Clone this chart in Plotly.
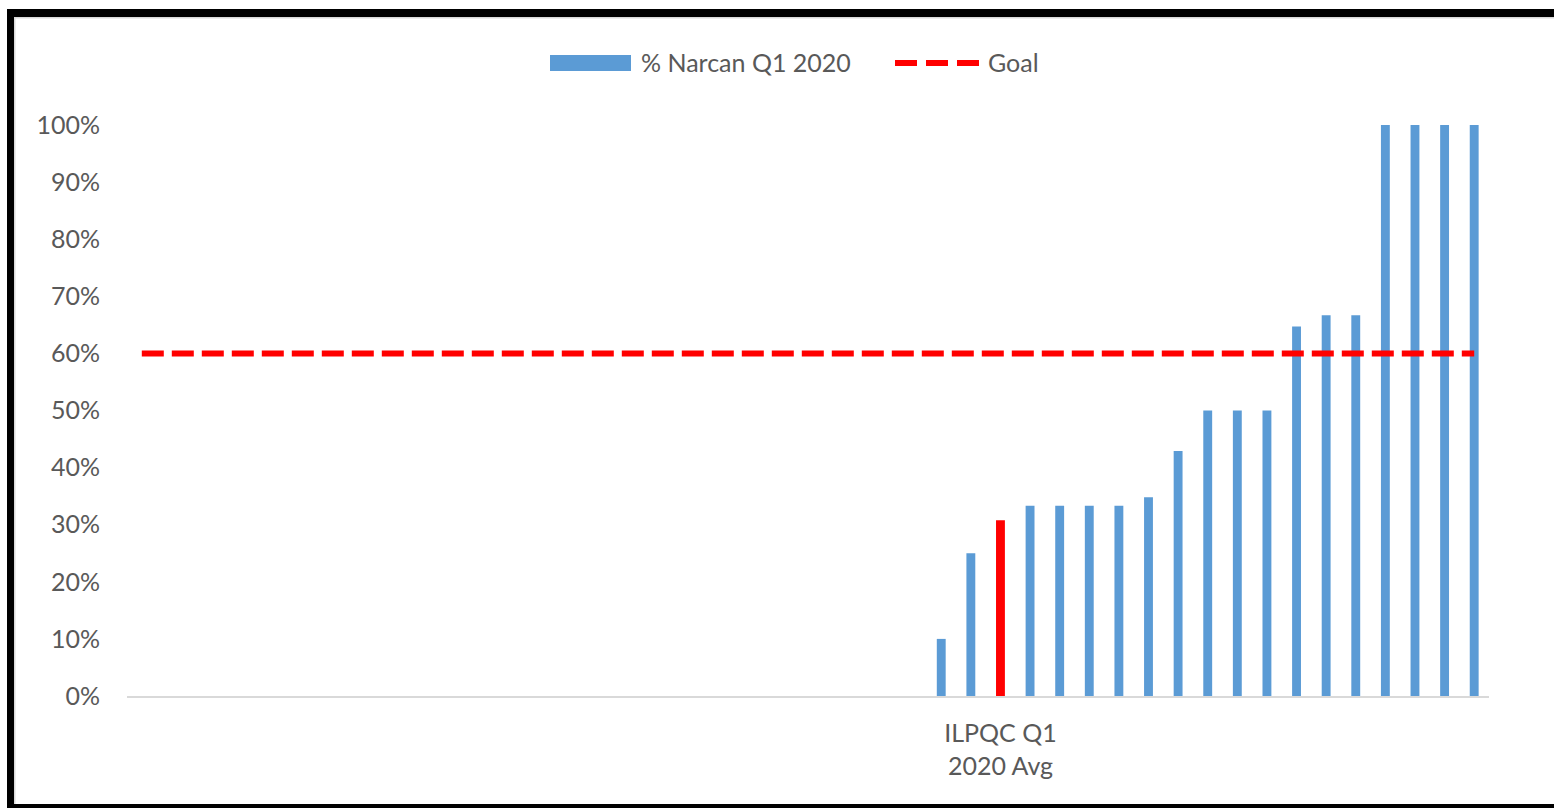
import plotly.graph_objects as go

# Hospital slots (positions 0..45); only the later hospitals report a rate
slots = list(range(46))
narcan_pct = [
    None, None, None, None, None, None, None, None, None, None,
    None, None, None, None, None, None, None, None, None, None,
    None, None, None, None, None, None, None,
    0.10, 0.25, 0.308, 0.333, 0.333, 0.333, 0.333, 0.348, 0.429,
    0.50, 0.50, 0.50, 0.647, 0.667, 0.667, 1.00, 1.00, 1.00, 1.00,
]
avg_slot = 29
avg_label = "ILPQC Q1<br>2020 Avg"
goal_value = 0.60
goal = [goal_value] * len(slots)
y_ticks = [0, 0.1, 0.2, 0.3, 0.4, 0.5, 0.6, 0.7, 0.8, 0.9, 1.0]

BLUE = "#5B9BD5"
RED = "#FF0000"
TEXT = "#595959"
FONT = "Lato"

bar_colors = [RED if i == avg_slot else BLUE for i in slots]

# page geometry (pixels)
W, H = 1554, 808
ML, MR, MT, MB = 127, 65, 125, 112


def px(x):
    return (x - ML) / (W - ML - MR)


def py(y):
    return (H - MB - y) / (H - MT - MB)


fig = go.Figure()
fig.add_trace(go.Bar(
    x=slots, y=narcan_pct, width=0.3,
    marker=dict(color=bar_colors, line=dict(width=0)),
    name="% Narcan Q1 2020", showlegend=False,
))
fig.add_trace(go.Scatter(
    x=slots, y=goal, mode="lines",
    line=dict(color=RED, width=6, dash="22px,8px"),
    name="Goal", showlegend=False,
))

shapes = []
# outer frame (left, top, bottom) with a faint inner edge
for x0, y0, x1, y1, col in [
    (7, 9, 14, H + 5, "black"),
    (7, 9, W + 5, 17, "black"),
    (7, 804, W + 5, H + 5, "black"),
    (14, 17, 15.5, 804, "#D9D9D9"),
    (14, 17, W + 5, 18.5, "#D9D9D9"),
]:
    shapes.append(dict(type="rect", xref="paper", yref="paper",
                       x0=px(x0), x1=px(x1), y0=py(y0), y1=py(y1),
                       fillcolor=col, line=dict(width=0), layer="above"))

# legend keys
shapes.append(dict(type="rect", xref="paper", yref="paper",
                   x0=px(550), x1=px(631), y0=py(55), y1=py(71),
                   fillcolor=BLUE, line=dict(width=0)))
shapes.append(dict(type="line", xref="paper", yref="paper",
                   x0=px(895), x1=px(979), y0=py(63), y1=py(63),
                   line=dict(color=RED, width=6, dash="22px,9px")))

annotations = [
    dict(text="% Narcan Q1 2020", xref="paper", yref="paper",
         x=px(639), y=py(62), xanchor="left", yanchor="middle",
         showarrow=False, font=dict(family=FONT, size=25, color=TEXT)),
    dict(text="Goal", xref="paper", yref="paper",
         x=px(986), y=py(62), xanchor="left", yanchor="middle",
         showarrow=False, font=dict(family=FONT, size=25, color=TEXT)),
]

fig.update_layout(
    width=W, height=H,
    margin=dict(l=ML, r=MR, t=MT, b=MB),
    paper_bgcolor="white", plot_bgcolor="white",
    font=dict(family=FONT, size=25, color=TEXT),
    shapes=shapes, annotations=annotations,
    showlegend=False,
)
fig.update_xaxes(
    range=[-0.5, len(slots) - 0.5],
    tickmode="array", tickvals=[avg_slot], ticktext=[avg_label],
    showgrid=False, zeroline=False, ticks="",
    showline=True, linecolor="#D9D9D9", linewidth=2,
    ticklabelstandoff=14,
    tickfont=dict(family=FONT, size=25, color=TEXT),
)
fig.update_yaxes(
    range=[0, 1], tickmode="array", tickvals=y_ticks, tickformat=".0%",
    showgrid=False, zeroline=False, showline=False, ticks="",
    ticklabelstandoff=26,
    tickfont=dict(family=FONT, size=25, color=TEXT),
)

fig.write_html("out.html")
